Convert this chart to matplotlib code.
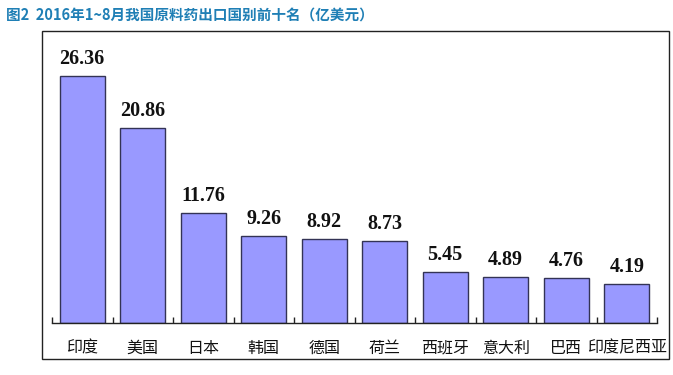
import matplotlib
matplotlib.use("Agg")
import matplotlib.pyplot as plt
from matplotlib.patches import Rectangle

categories = ["印度", "美国", "日本", "韩国", "德国", "荷兰", "西班牙", "意大利", "巴西", "印度尼西亚"]
values = [26.36, 20.86, 11.76, 9.26, 8.92, 8.73, 5.45, 4.89, 4.76, 4.19]
title = "图2  2016年1~8月我国原料药出口国别前十名（亿美元）"

plt.rcParams['font.family'] = ['Noto Sans CJK SC', 'DejaVu Sans']

W, H = 673, 375
fig = plt.figure(figsize=(W / 100, H / 100), dpi=100)
fig.patch.set_facecolor("white")

# outer chart box
fig.patches.append(Rectangle((42 / W, 1 - 359 / H), (669 - 42) / W, (359 - 31) / H,
                             transform=fig.transFigure, fill=False,
                             edgecolor="#222222", linewidth=1.0))

ax_left, ax_right, ax_bottom_px, ax_top_px = 52, 657, 323, 40
ax = fig.add_axes([ax_left / W, 1 - ax_bottom_px / H,
                   (ax_right - ax_left) / W, (ax_bottom_px - ax_top_px) / H])
ax.set_facecolor("none")

x = list(range(len(categories)))
bars = ax.bar(x, values, width=0.74, color="#9999FF", edgecolor="#333355", linewidth=1.0)
ymax = (ax_bottom_px - ax_top_px) / 9.37
ax.set_ylim(0, ymax)
ax.set_xlim(-0.5, len(categories) - 0.5)

for xi, v in zip(x, values):
    ax.text(xi, v + 0.75, f"{v:.2f}", ha="center", va="bottom",
            family=["Liberation Serif"], fontweight="bold", fontsize=14.5, color="#111111")

for s in ["left", "right", "top"]:
    ax.spines[s].set_visible(False)
ax.spines["bottom"].set_color("#222222")
ax.spines["bottom"].set_linewidth(1.0)
ax.set_yticks([])
ax.set_xticks([i - 0.5 for i in range(len(categories) + 1)], minor=False)
ax.set_xticklabels([])
ax.tick_params(axis="x", direction="in", length=4, width=1.0, color="#222222")
ax.set_xticks(x, minor=True)
ax.set_xticklabels(categories, minor=True)
ax.tick_params(axis="x", which="minor", length=0, pad=12, labelsize=11.5, labelcolor="#111111")

fig.text(6 / W, 1 - 15 / H, title, ha="left", va="center", fontsize=10.5,
         fontweight="bold", color="#1f7fb5")

fig.savefig("out.png", dpi=100, facecolor="white")
